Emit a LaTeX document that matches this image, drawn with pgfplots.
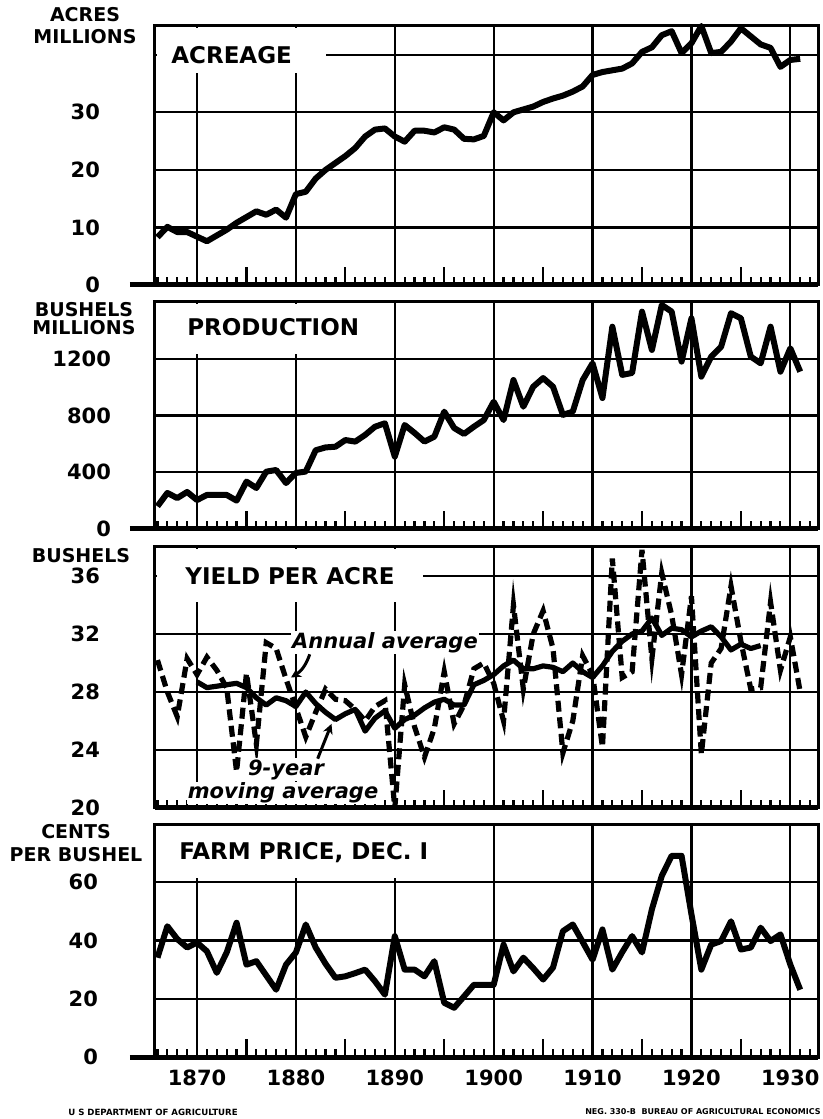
\documentclass[border=0pt]{standalone}
\usepackage{pgfplots}
\pgfplotsset{compat=1.18}
\usepackage{pgfplotstable}
\usetikzlibrary{arrows.meta}
\usepackage{fontspec}
\setmainfont{DejaVu Sans}

\pgfplotstableread{
year acres prod yld price
1866 8.3 160 30.2 34.1
1867 10.1 254 28.0 44.9
1868 9.2 218 26.3 40.5
1869 9.2 261 30.3 37.6
1870 8.4 204 29.2 39.3
1871 7.6 240 30.4 36.3
1872 8.6 240 29.5 28.9
1873 9.6 240 28.3 35.9
1874 10.8 200 22.5 46.1
1875 11.8 334 29.3 31.7
1876 12.8 289 24.4 32.9
1877 12.2 404 31.4 28.0
1878 13.1 416 31.0 23.1
1879 11.7 324 28.9 31.7
1880 15.8 395 26.9 35.9
1881 16.2 405 24.9 45.5
1882 18.5 555 26.6 37.6
1883 20.0 575 28.2 32.0
1884 21.2 580 27.5 27.2
1885 22.4 627 27.4 27.7
1886 23.8 616 26.8 28.8
1887 25.8 663 26.0 30.0
1888 27.0 721 27.0 26.0
1889 27.2 745 27.4 21.4
1890 25.8 510 20.0 41.5
1891 24.9 733 28.5 30.0
1892 26.8 677 25.6 30.0
1893 26.8 616 23.5 27.7
1894 26.5 651 25.5 32.9
1895 27.4 827 29.4 18.6
1896 27.0 712 25.8 16.9
1897 25.4 670 27.1 20.8
1898 25.3 721 29.6 24.8
1899 25.9 768 30.0 24.8
1900 30.0 897 28.6 24.8
1901 28.6 768 26.0 38.6
1902 30.0 1050 34.0 29.4
1903 30.5 862 28.2 34.1
1904 31.0 1003 32.0 30.5
1905 31.8 1064 33.6 26.6
1906 32.4 1003 31.0 30.7
1907 32.9 804 23.8 43.2
1908 33.6 827 26.0 45.5
1909 34.5 1050 30.5 39.5
1910 36.5 1168 29.2 33.4
1911 37.0 923 24.2 43.8
1912 37.3 1426 37.2 30.0
1913 37.6 1086 29.0 36.0
1914 38.5 1100 29.4 41.5
1915 40.5 1532 37.8 35.9
1916 41.3 1262 30.3 50.7
1917 43.4 1579 36.2 62.2
1918 44.1 1532 33.3 69.1
1919 40.3 1180 29.2 69.1
1920 42.0 1485 34.6 49.0
1921 45.0 1074 23.7 30.0
1922 40.3 1215 30.0 38.6
1923 40.5 1285 31.0 39.8
1924 42.3 1521 35.3 46.6
1925 44.6 1485 31.5 36.9
1926 43.2 1215 28.2 37.6
1927 41.8 1168 28.3 44.4
1928 41.2 1426 34.2 39.8
1929 37.9 1109 29.5 42.1
1930 39.1 1274 31.8 31.7
1931 39.3 1109 28.0 23.1
}\oats

\pgfplotstableread{
year ma
1870 28.7
1871 28.3
1872 28.4
1873 28.5
1874 28.6
1875 28.3
1876 27.6
1877 27.1
1878 27.6
1879 27.4
1880 27.0
1881 28.0
1882 27.2
1883 26.6
1884 26.1
1885 26.5
1886 26.8
1887 25.3
1888 26.2
1889 26.7
1890 25.5
1891 26.1
1892 26.4
1893 26.9
1894 27.3
1895 27.5
1896 27.1
1897 27.1
1898 28.5
1899 28.8
1900 29.2
1901 29.8
1902 30.2
1903 29.6
1904 29.6
1905 29.8
1906 29.7
1907 29.4
1908 30.0
1909 29.4
1910 29.0
1911 29.8
1912 30.8
1913 31.5
1914 32.0
1915 32.2
1916 33.1
1917 31.9
1918 32.4
1919 32.3
1920 31.8
1921 32.2
1922 32.5
1923 31.8
1924 30.9
1925 31.3
1926 31.0
1927 31.2
}\mavg

\pgfplotsset{
  panel/.style={
    scale only axis, width=331.5pt,
    xmin=1865.75, xmax=1932.8,
    anchor=south west, clip=false,
    axis line style={line width=1.5pt},
    xtick={1870,1880,...,1930},
    xticklabels={},
    minor xtick={1866,1867,...,1932},
    extra x ticks={1875,1885,...,1925},
    extra x tick labels={},
    extra x tick style={grid=none},
    tick align=inside, tick pos=left,
    major tick length=9pt, minor tick length=4pt,
    xmajorgrids, ymajorgrids,
    major grid style={line width=1.1pt, black},
    tick style={line width=1.1pt, black},
    minor tick style={line width=1.1pt, black},
    y tick style={draw=none},
    yticklabel style={font=\bfseries\fontsize{10.5}{12}\selectfont, anchor=east},
    xticklabel style={font=\bfseries\fontsize{10.5}{12}\selectfont, yshift=-3pt},
  },
}
\tikzset{
  ttl/.style={font=\bfseries\fontsize{11.5}{13}\selectfont, inner sep=0pt},
  unit/.style={align=center, inner sep=0pt},
  dataline/.style={line width=3pt, line join=round, black},
  anno/.style={fill=white, inner sep=0.6pt, font=\bfseries\itshape\fontsize{10.5}{12}\selectfont},
}

\begin{document}
\begin{tikzpicture}
\useasboundingbox (0,0) rectangle (411.5pt,559.5pt);

% ---------------- ACREAGE
\begin{axis}[panel, at={(77.5pt,417pt)}, height=129.5pt,
  ymin=0, ymax=45, ytick={0,10,20,30,40}, yticklabels={0,10,20,30,{}},
  yticklabel style={xshift=-24pt}]
  \fill[white] ([xshift=0.9pt,yshift=-0.9pt]rel axis cs:0,1) rectangle (axis cs:1883.0,36.8);
  \node[ttl] at (axis cs:1873.5,40) {ACREAGE};
  \addplot[dataline] table[x=year,y=acres]{\oats};
  \draw[line width=2.5pt] ([xshift=-12.5pt]rel axis cs:0,0) -- (rel axis cs:1,0);
  \node[unit, font=\bfseries\fontsize{9.5}{11}\selectfont] at ([xshift=-35pt]rel axis cs:0,1) {ACRES\\MILLIONS};
\end{axis}

% ---------------- PRODUCTION
\begin{axis}[panel, at={(77.5pt,295pt)}, height=113.5pt,
  ymin=0, ymax=1600, ytick={0,400,800,1200}, yticklabels={0,400,800,1200},
  yticklabel style={xshift=-18.5pt}]
  \fill[white] ([xshift=0.9pt,yshift=-0.9pt]rel axis cs:0,1) rectangle (axis cs:1887.5,1235);
  \node[ttl] at (axis cs:1877.7,1424) {PRODUCTION};
  \addplot[dataline] table[x=year,y=prod]{\oats};
  \draw[line width=2.5pt] ([xshift=-12.5pt]rel axis cs:0,0) -- (rel axis cs:1,0);
  \node[unit, font=\bfseries\fontsize{9.5}{9}\selectfont] at ([xshift=-35.5pt,yshift=-8.5pt]rel axis cs:0,1) {BUSHELS\\MILLIONS};
\end{axis}

% ---------------- YIELD
\begin{axis}[panel, at={(77.5pt,155.5pt)}, height=130.5pt,
  ymin=20, ymax=38, ytick={20,24,28,32,36}, yticklabels={20,24,28,32,36},
  yticklabel style={xshift=-24pt}]
  \fill[white] ([xshift=0.9pt,yshift=-0.9pt]rel axis cs:0,1) rectangle (axis cs:1892.9,34.2);
  \node[ttl] at (axis cs:1879.4,36) {YIELD PER ACRE};
  \addplot[line width=2.6pt, black, dash pattern=on 5.5pt off 2.8pt] table[x=year,y=yld]{\oats};
  \addplot[line width=2.6pt, line join=round, black] table[x=year,y=ma]{\mavg};
  \draw[line width=2.5pt] (rel axis cs:0,0) -- (rel axis cs:1,0);
  \node[anno] at (axis cs:1889.0,31.4) {Annual average};
  \draw[line width=1.5pt, -{Stealth[length=5pt,width=5pt]}] (axis cs:1881.4,30.6) to[bend left=20] (axis cs:1879.5,29.0);
  \node[anno, anchor=south] at (axis cs:1879.0,21.85) {9-year};
  \node[anno, anchor=north, inner sep=0.2pt] at (axis cs:1878.7,21.8) {moving average};
  \draw[line width=1.5pt, -{Stealth[length=5pt,width=5pt]}] (axis cs:1882.2,23.4) -- (axis cs:1883.6,25.8);
  \node[unit, font=\bfseries\fontsize{9.5}{11}\selectfont] at ([xshift=-37pt,yshift=-4.5pt]rel axis cs:0,1) {BUSHELS};
\end{axis}

% ---------------- PRICE
\begin{axis}[panel, at={(77.5pt,31pt)}, height=116.5pt,
  ymin=0, ymax=80, ytick={0,20,40,60}, yticklabels={0,20,40,60},
  yticklabel style={xshift=-25pt},
  xticklabels={1870,1880,1890,1900,1910,1920,1930}]
  \fill[white] ([xshift=0.9pt,yshift=-0.9pt]rel axis cs:0,1) rectangle (axis cs:1894,61.5);
  \node[ttl] at (axis cs:1880.8,70.3) {FARM PRICE, DEC. I};
  \addplot[dataline] table[x=year,y=price]{\oats};
  \draw[line width=2.5pt] ([xshift=-12.5pt]rel axis cs:0,0) -- (rel axis cs:1,0);
  \node[unit, font=\bfseries\fontsize{9.5}{11.5}\selectfont] at ([xshift=-39.5pt,yshift=-9.75pt]rel axis cs:0,1) {CENTS\\PER BUSHEL};
\end{axis}

\node[font=\bfseries\fontsize{4.3}{5}\selectfont, inner sep=0pt] at (76.5pt,3.5pt) {U S DEPARTMENT OF AGRICULTURE};
\node[font=\bfseries\fontsize{4}{5}\selectfont, inner sep=0pt, anchor=east] at (410.5pt,3.5pt) {NEG. 330-B \ BUREAU OF AGRICULTURAL ECONOMICS};
\end{tikzpicture}
\end{document}
